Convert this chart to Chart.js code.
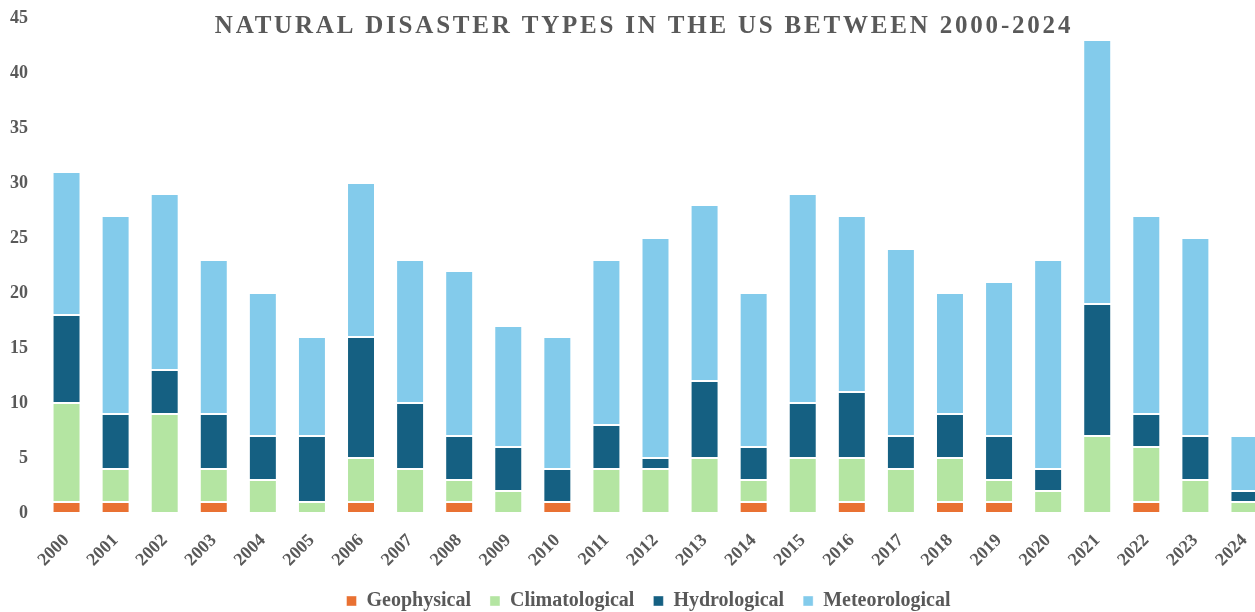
<!DOCTYPE html>
<html>
<head>
<meta charset="utf-8">
<script src="https://cdn.jsdelivr.net/npm/chart.js@4"></script>
<style>
  html, body { margin: 0; padding: 0; background: #fff; overflow: hidden; }
  #wrap { width: 1269px; height: 612px; position: relative; }
</style>
</head>
<body>
<div id="wrap"><canvas id="disasterChart"></canvas></div>
<script>
  // Data
  const years = ['2000', '2001', '2002', '2003', '2004', '2005', '2006', '2007', '2008', '2009',
    '2010', '2011', '2012', '2013', '2014', '2015', '2016', '2017', '2018', '2019',
    '2020', '2021', '2022', '2023', '2024'];
  const geophysical    = [1, 1, 0, 1, 0, 0, 1, 0, 1, 0, 1, 0, 0, 0, 1, 0, 1, 0, 1, 1, 0, 0, 1, 0, 0];
  const climatological = [9, 3, 9, 3, 3, 1, 4, 4, 2, 2, 0, 4, 4, 5, 2, 5, 4, 4, 4, 2, 2, 7, 5, 3, 1];
  const hydrological   = [8, 5, 4, 5, 4, 6, 11, 6, 4, 4, 3, 4, 1, 7, 3, 5, 6, 3, 4, 4, 2, 12, 3, 4, 1];
  const meteorological = [13, 18, 16, 14, 13, 9, 14, 13, 15, 11, 12, 15, 20, 16, 14, 19, 16, 17, 11, 14, 19, 24, 18, 18, 5];
  const yTicks = [0, 5, 10, 15, 20, 25, 30, 35, 40, 45];

  const textGray = '#595959';
  const serif = "'Liberation Serif', 'Times New Roman', serif";

  // title drawn by hand so it can sit over the plot and get letter spacing
  const titlePlugin = {
    id: 'spacedTitle',
    afterDraw(chart) {
      const ctx = chart.ctx;
      ctx.save();
      ctx.font = 'bold 25px ' + serif;
      ctx.fillStyle = textGray;
      ctx.textAlign = 'center';
      ctx.textBaseline = 'middle';
      if ('letterSpacing' in ctx) ctx.letterSpacing = '2.8px';
      ctx.fillText('NATURAL DISASTER TYPES IN THE US BETWEEN 2000-2024', 644, 27);
      ctx.restore();
    }
  };

  // legend: keep wide gaps between items but only take a short strip at the bottom
  const legendFix = {
    id: 'legendFix',
    beforeLayout(chart) {
      const lg = chart.legend;
      if (lg && !lg._fixed) {
        const fit = lg.fit.bind(lg);
        lg.fit = function () { fit(); this.height = 42; };
        lg._fixed = true;
      }
    },
    afterUpdate(chart) {
      const lg = chart.legend;
      if (!lg) return;
      const dx = 14, dy = 2;
      lg.top += dy; lg.bottom += dy;
      lg.left += dx; lg.right += dx;
      (lg.legendHitBoxes || []).forEach(h => { h.top += dy; h.left += dx; });
    }
  };

  function series(label, data, color) {
    return {
      label: label,
      data: data,
      backgroundColor: color,
      borderColor: 'rgba(255,255,255,0.4)',
      borderWidth: 1,
      borderSkipped: false,
      categoryPercentage: 1,
      barPercentage: 0.57
    };
  }

  const ctx = document.getElementById('disasterChart').getContext('2d');
  new Chart(ctx, {
    type: 'bar',
    data: {
      labels: years,
      datasets: [
        series('Geophysical', geophysical, '#E97132'),
        series('Climatological', climatological, '#B4E5A2'),
        series('Hydrological', hydrological, '#156082'),
        series('Meteorological', meteorological, '#83CBEB')
      ]
    },
    options: {
      responsive: true,
      maintainAspectRatio: false,
      animation: false,
      layout: { padding: { top: 18, left: 0, right: 0, bottom: 0 } },
      scales: {
        x: {
          stacked: true,
          grid: { display: false },
          border: { display: false },
          afterFit(axis) { axis.height = 57; },
          ticks: {
            color: textGray,
            font: { family: serif, size: 18, weight: 'bold' },
            minRotation: 45,
            maxRotation: 45,
            padding: 9
          }
        },
        y: {
          stacked: true,
          min: 0,
          max: 45,
          afterBuildTicks(axis) {
            axis.ticks = yTicks.map(v => ({ value: v }));
          },
          afterFit(axis) { axis.width = 42; },
          grid: { display: false },
          border: { display: false },
          ticks: {
            color: textGray,
            font: { family: serif, size: 18, weight: 'bold' },
            padding: 6
          }
        }
      },
      plugins: {
        legend: {
          position: 'bottom',
          labels: {
            color: textGray,
            font: { family: serif, size: 20, weight: 'bold' },
            boxWidth: 10,
            boxHeight: 10,
            padding: 19
          }
        },
        tooltip: { enabled: false }
      }
    },
    plugins: [titlePlugin, legendFix]
  });
</script>
</body>
</html>
